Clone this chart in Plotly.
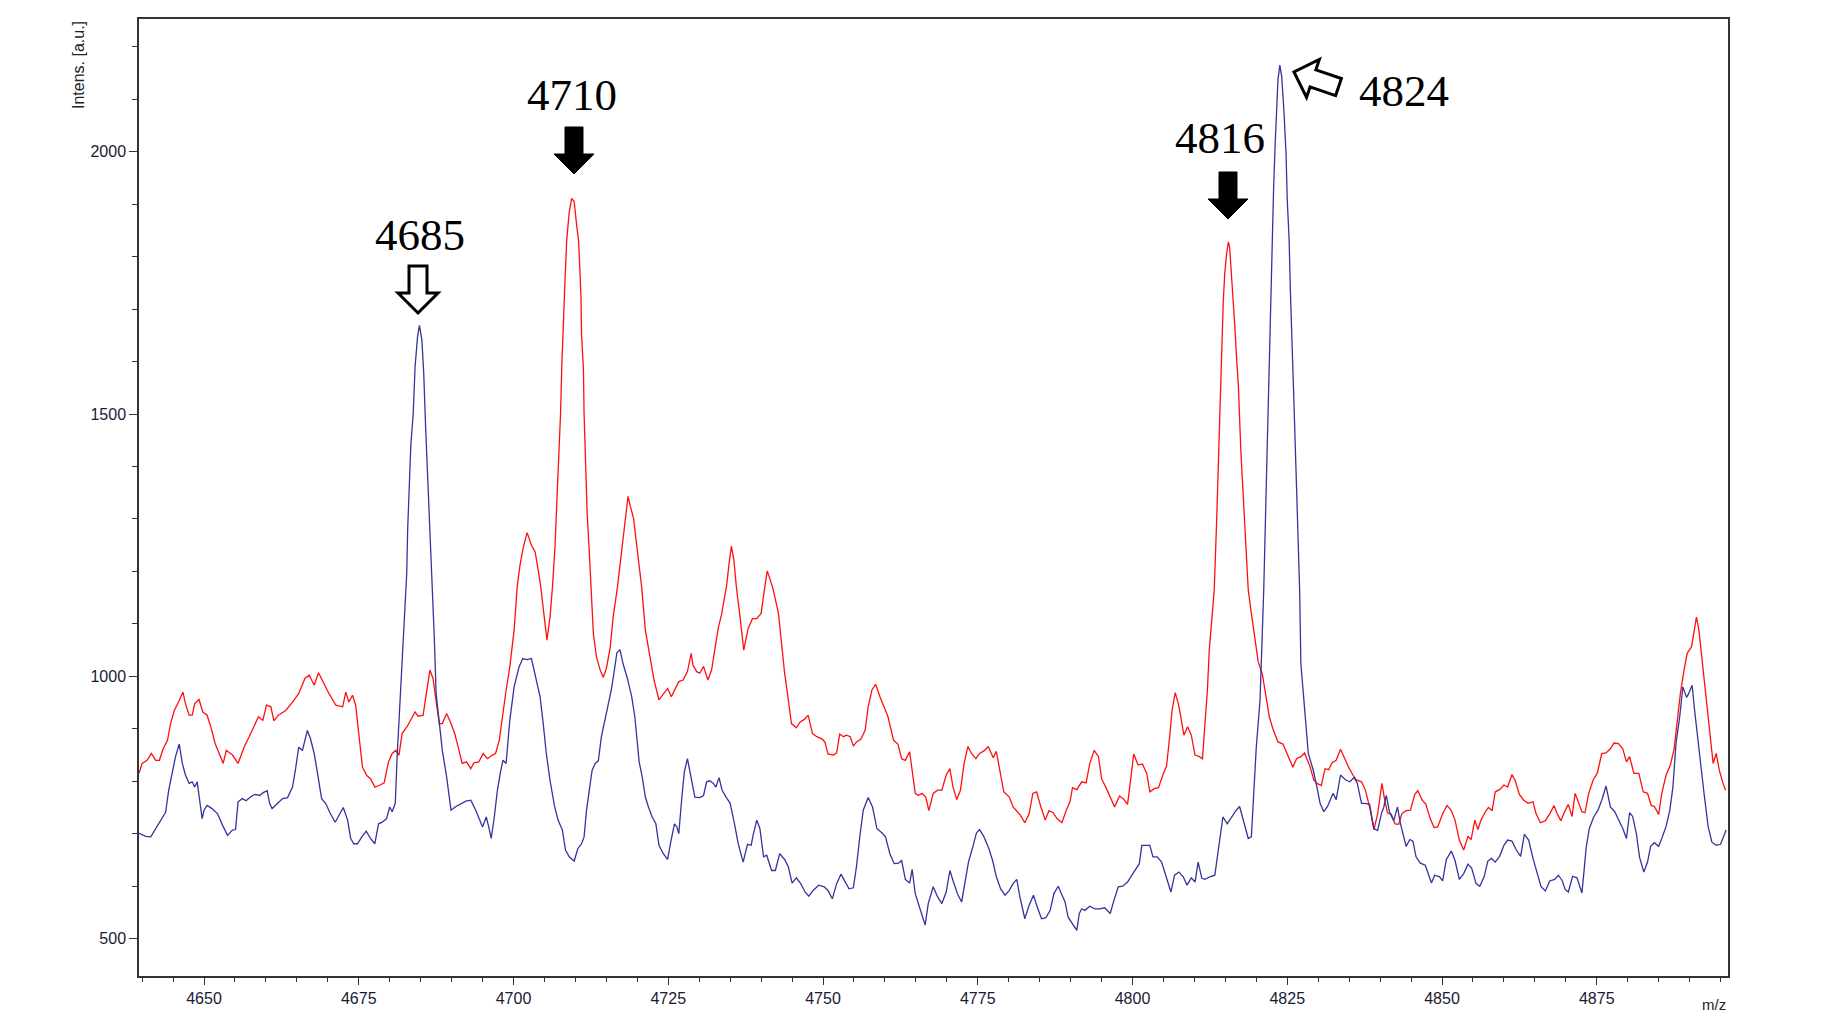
import math
import plotly.graph_objects as go

# widmo czerwone (m/z, intensywnosc)
red_mz = [4639.5, 4640.0, 4640.8, 4641.5, 4642.2, 4642.8, 4643.4, 4644.1, 4644.6, 4645.2, 4646.0, 4646.6,
          4647.0, 4647.6, 4648.1, 4648.5, 4649.2, 4649.8, 4650.5, 4651.1, 4651.8, 4652.4, 4653.1, 4653.6,
          4654.6, 4655.5, 4656.5, 4657.3, 4658.1, 4658.8, 4659.5, 4660.1, 4660.8, 4661.3, 4662.0, 4663.2,
          4664.3, 4665.3, 4666.3, 4667.0, 4667.8, 4668.5, 4669.4, 4670.2, 4671.3, 4672.4, 4672.9, 4673.4,
          4674.0, 4674.5, 4675.0, 4675.6, 4676.3, 4676.9, 4677.6, 4678.3, 4679.1, 4679.8, 4680.4, 4681.0,
          4681.5, 4682.0, 4682.8, 4683.4, 4684.1, 4684.6, 4685.4, 4685.8, 4686.5, 4687.0, 4687.5, 4688.0,
          4688.5, 4689.2, 4689.8, 4690.5, 4691.2, 4691.7, 4692.4, 4693.1, 4693.6, 4694.4, 4695.1, 4695.8,
          4696.6, 4697.1, 4697.7, 4698.3, 4698.8, 4699.4, 4700.1, 4700.6, 4701.05, 4701.6, 4702.2, 4702.9,
          4703.5, 4704.0, 4704.4, 4704.8, 4705.4, 4705.9, 4706.3, 4706.7, 4707.0, 4707.3, 4707.6, 4707.8,
          4708.0, 4708.3, 4708.6, 4709.0, 4709.4, 4709.8, 4710.2, 4710.5, 4710.7, 4710.9, 4711.0, 4711.3,
          4711.4, 4711.7, 4711.9, 4712.2, 4712.5, 4712.9, 4713.4, 4714.0, 4714.5, 4715.0, 4715.6, 4716.1,
          4716.8, 4717.3, 4717.7, 4718.2, 4718.5, 4718.9, 4719.4, 4719.8, 4720.2, 4720.7, 4721.3, 4722.0,
          4722.7, 4723.5, 4724.2, 4724.9, 4725.5, 4726.1, 4726.7, 4727.4, 4728.1, 4728.7, 4729.0, 4729.6,
          4730.1, 4730.7, 4731.4, 4732.0, 4732.5, 4733.1, 4733.6, 4734.4, 4734.9, 4735.2, 4735.6, 4736.0,
          4736.6, 4737.2, 4737.9, 4738.6, 4739.3, 4740.0, 4740.6, 4741.0, 4741.5, 4741.9, 4742.8, 4743.3,
          4743.8, 4744.4, 4744.9, 4745.7, 4746.3, 4747.0, 4747.6, 4748.3, 4749.0, 4749.8, 4750.3, 4750.8,
          4751.7, 4752.2, 4752.7, 4753.3, 4753.8, 4754.4, 4754.9, 4755.4, 4756.1, 4756.8, 4757.3, 4757.9,
          4758.5, 4759.2, 4759.9, 4760.5, 4761.4, 4762.1, 4762.7, 4763.3, 4764.0, 4764.9, 4765.4, 4766.0,
          4766.6, 4767.1, 4767.8, 4768.5, 4769.2, 4769.9, 4770.5, 4771.0, 4771.6, 4772.2, 4772.8, 4773.4,
          4774.0, 4774.7, 4775.3, 4776.0, 4776.7, 4777.5, 4778.0, 4778.6, 4779.2, 4780.1, 4780.7, 4781.4,
          4781.9, 4782.6, 4783.3, 4783.9, 4784.5, 4785.2, 4785.9, 4786.5, 4787.2, 4787.8, 4788.6, 4789.3,
          4789.9, 4790.3, 4791.0, 4791.8, 4792.5, 4793.1, 4793.8, 4794.5, 4795.0, 4795.8, 4796.5, 4797.1,
          4797.9, 4798.5, 4799.2, 4799.7, 4800.2, 4800.9, 4801.6, 4802.3, 4802.8, 4803.5, 4804.2, 4804.9,
          4805.5, 4806.0, 4806.4, 4806.9, 4807.4, 4807.8, 4808.3, 4808.9, 4809.5, 4810.1, 4810.8, 4811.3,
          4811.7, 4812.1, 4812.4, 4812.8, 4813.2, 4813.6, 4813.9, 4814.2, 4814.5, 4814.65, 4814.9, 4815.2,
          4815.5, 4815.7, 4816.0, 4816.3, 4816.5, 4816.8, 4817.1, 4817.5, 4818.0, 4818.4, 4818.7, 4819.2,
          4819.8, 4820.3, 4820.96, 4821.55, 4822.1, 4822.7, 4823.5, 4824.3, 4825.2, 4825.9, 4826.5, 4827.2,
          4827.8, 4828.7, 4829.3, 4829.8, 4830.5, 4831.1, 4831.7, 4832.2, 4832.9, 4833.6, 4834.3, 4834.9,
          4835.6, 4836.1, 4837.0, 4837.6, 4838.3, 4839.0, 4839.6, 4840.0, 4840.3, 4840.7, 4841.2, 4841.8,
          4842.4, 4843.0, 4843.5, 4844.2, 4844.9, 4845.6, 4846.1, 4846.8, 4847.4, 4848.0, 4848.7, 4849.3,
          4850.1, 4850.8, 4851.5, 4852.1, 4852.8, 4853.5, 4854.2, 4854.7, 4855.3, 4855.8, 4856.3, 4857.0,
          4857.5, 4858.1, 4858.6, 4859.3, 4860.0, 4860.6, 4861.3, 4861.8, 4862.5, 4863.2, 4863.9, 4864.7,
          4865.2, 4865.9, 4866.7, 4867.4, 4868.1, 4868.6, 4869.2, 4869.8, 4870.4, 4871.0, 4871.5, 4872.1,
          4872.6, 4873.1, 4873.7, 4874.4, 4875.1, 4875.8, 4876.5, 4877.2, 4877.8, 4878.5, 4879.2, 4879.8,
          4880.3, 4881.0, 4881.8, 4882.5, 4883.2, 4883.8, 4884.3, 4885.0, 4885.5, 4886.2, 4886.9, 4887.5,
          4888.0, 4888.5, 4889.1, 4889.6, 4890.3, 4890.7, 4891.1, 4891.5, 4891.9, 4892.3, 4892.8, 4893.4,
          4893.8, 4894.3, 4894.8, 4895.4, 4895.8]
red_int = [815, 834, 840, 853, 840, 840, 862, 878, 910, 935, 954, 970,
           948, 926, 926, 948, 956, 932, 926, 904, 872, 853, 834, 859,
           850, 834, 866, 885, 904, 923, 916, 945, 942, 915, 926, 935,
           951, 967, 996, 1002, 983, 1007, 986, 967, 945, 942, 970, 951,
           964, 945, 891, 827, 811, 805, 789, 792, 797, 837, 853, 859,
           850, 891, 904, 916, 932, 924, 926, 958, 1012, 996, 948, 910,
           910, 929, 913, 891, 859, 834, 837, 824, 835, 837, 853, 843,
           850, 853, 878, 932, 973, 1018, 1088, 1171, 1212, 1247, 1274, 1250,
           1237, 1202, 1171, 1130, 1069, 1113, 1171, 1247, 1330, 1412, 1501, 1590,
           1666, 1749, 1832, 1885, 1911, 1905, 1860, 1832, 1781, 1724, 1650, 1584,
           1501, 1393, 1310, 1247, 1171, 1082, 1037, 1012, 998, 1015, 1053, 1113,
           1171, 1222, 1272, 1323, 1343, 1323, 1301, 1260, 1222, 1171, 1088, 1044,
           993, 955, 967, 977, 961, 974, 990, 993, 1009, 1044, 1021, 1009,
           1006, 1019, 993, 1012, 1050, 1094, 1117, 1171, 1222, 1248, 1222, 1171,
           1113, 1050, 1091, 1110, 1110, 1120, 1171, 1201, 1183, 1168, 1120, 1060,
           1006, 955, 910, 902, 913, 918, 926, 891, 885, 881, 875, 852,
           850, 854, 890, 885, 888, 885, 867, 875, 880, 897, 942, 974,
           985, 961, 942, 923, 878, 871, 843, 840, 856, 777, 773, 777,
           770, 744, 777, 783, 783, 812, 824, 789, 765, 783, 834, 866,
           853, 843, 853, 858, 866, 845, 857, 821, 780, 770, 751, 742,
           735, 721, 738, 777, 780, 751, 726, 744, 740, 729, 721, 745,
           761, 788, 784, 799, 797, 834, 859, 847, 805, 786, 767, 751,
           772, 767, 756, 802, 852, 831, 833, 815, 780, 786, 788, 812,
           829, 885, 936, 969, 948, 923, 888, 904, 888, 850, 847, 843,
           904, 974, 1050, 1113, 1164, 1300, 1430, 1558, 1647, 1711, 1768, 1806,
           1828, 1816, 1762, 1717, 1673, 1609, 1555, 1430, 1310, 1220, 1164, 1120,
           1069, 1028, 1005, 961, 923, 899, 875, 871, 847, 827, 843, 847,
           854, 827, 802, 796, 792, 824, 822, 835, 840, 861, 843, 827,
           812, 803, 799, 784, 751, 708, 738, 770, 796, 767, 740, 737,
           719, 718, 738, 744, 745, 775, 782, 764, 756, 732, 712, 713,
           738, 754, 744, 726, 688, 669, 695, 689, 726, 708, 726, 742,
           750, 744, 780, 784, 793, 789, 813, 802, 775, 764, 758, 761,
           738, 721, 725, 738, 754, 738, 725, 742, 756, 733, 777, 758,
           742, 740, 777, 802, 816, 853, 854, 862, 873, 872, 862, 837,
           847, 815, 815, 780, 777, 754, 752, 737, 777, 812, 831, 862,
           913, 967, 1012, 1044, 1056, 1082, 1113, 1088, 1044, 999, 948, 882,
           834, 853, 821, 796, 783]

# widmo niebieskie
blue_mz = [4639.5, 4640.6, 4641.4, 4642.2, 4643.0, 4643.8, 4644.3, 4644.9, 4645.4, 4646.0, 4646.5, 4647.0,
           4647.6, 4648.1, 4648.5, 4648.9, 4649.3, 4649.7, 4650.0, 4650.5, 4651.3, 4652.2, 4653.0, 4653.8,
           4654.6, 4655.1, 4655.5, 4656.2, 4656.8, 4657.5, 4658.2, 4659.0, 4659.5, 4660.2, 4660.6, 4661.0,
           4661.9, 4662.7, 4663.5, 4664.3, 4664.8, 4665.3, 4665.9, 4666.3, 4666.7, 4667.2, 4667.8, 4668.3,
           4669.0, 4669.7, 4670.3, 4671.2, 4671.8, 4672.5, 4673.2, 4673.7, 4674.2, 4674.8, 4675.5, 4676.2,
           4676.9, 4677.6, 4678.2, 4678.8, 4679.5, 4680.0, 4680.4, 4680.9, 4681.2, 4681.8, 4682.3, 4682.75,
           4682.9, 4683.2, 4683.4, 4683.8, 4684.1, 4684.5, 4684.8, 4685.2, 4685.5, 4685.8, 4686.1, 4686.4,
           4686.6, 4686.8, 4687.2, 4687.5, 4688.0, 4688.5, 4689.2, 4689.9, 4690.7, 4691.5, 4692.3, 4693.1,
           4693.9, 4695.0, 4695.6, 4696.0, 4696.4, 4696.9, 4697.4, 4697.9, 4698.3, 4698.8, 4699.4, 4700.1,
           4700.9, 4701.5, 4702.2, 4702.9, 4703.5, 4704.3, 4704.8, 4705.3, 4705.9, 4706.6, 4707.2, 4707.9,
           4708.4, 4709.0, 4709.8, 4710.4, 4711.0, 4711.4, 4711.8, 4712.2, 4712.7, 4713.2, 4713.7, 4714.2,
           4714.8, 4715.3, 4715.8, 4716.3, 4716.7, 4717.2, 4717.7, 4718.4, 4719.1, 4719.6, 4719.9, 4720.3,
           4720.8, 4721.3, 4721.8, 4722.4, 4723.0, 4723.5, 4724.2, 4724.9, 4725.4, 4726.0, 4726.4, 4726.7,
           4727.2, 4727.6, 4728.1, 4728.7, 4729.3, 4730.1, 4730.7, 4731.2, 4731.7, 4732.3, 4732.7, 4733.2,
           4733.7, 4734.4, 4735.0, 4735.7, 4736.3, 4737.1, 4737.8, 4738.4, 4738.7, 4739.3, 4739.8, 4740.4,
           4740.9, 4741.7, 4742.3, 4743.0, 4743.8, 4744.4, 4745.0, 4745.7, 4746.4, 4747.1, 4747.7, 4748.4,
           4749.3, 4750.2, 4750.8, 4751.5, 4752.2, 4752.9, 4753.5, 4754.2, 4754.9, 4755.4, 4756.0, 4756.5,
           4757.3, 4758.0, 4758.7, 4759.5, 4760.1, 4760.8, 4761.5, 4762.2, 4762.7, 4763.3, 4764.0, 4764.4,
           4764.9, 4765.7, 4766.5, 4767.0, 4767.8, 4768.5, 4769.2, 4769.9, 4770.5, 4771.0, 4771.7, 4772.4,
           4772.9, 4773.5, 4774.2, 4774.8, 4775.3, 4776.0, 4776.7, 4777.4, 4778.0, 4778.7, 4779.4, 4780.1,
           4780.7, 4781.3, 4781.8, 4782.6, 4783.3, 4784.0, 4784.6, 4785.3, 4786.0, 4786.7, 4787.3, 4788.0,
           4788.5, 4789.1, 4789.6, 4790.3, 4791.0, 4791.4, 4791.8, 4792.3, 4793.1, 4793.9, 4794.7, 4795.5,
           4796.4, 4797.0, 4797.7, 4798.4, 4799.2, 4799.9, 4800.6, 4801.1, 4801.5, 4802.0, 4802.8, 4803.3,
           4804.0, 4804.7, 4805.4, 4806.2, 4806.8, 4807.5, 4808.2, 4808.8, 4809.5, 4810.1, 4810.6, 4811.2,
           4811.7, 4812.5, 4813.3, 4813.9, 4814.6, 4815.3, 4816.0, 4816.7, 4817.3, 4818.0, 4818.7, 4819.2,
           4819.6, 4820.0, 4820.6, 4820.96, 4821.2, 4821.6, 4822.0, 4822.1, 4822.35, 4822.6, 4822.8, 4823.05,
           4823.3, 4823.5, 4823.8, 4824.1, 4824.45, 4824.8, 4825.0, 4825.3, 4825.5, 4825.8, 4826.0, 4826.5,
           4827.0, 4827.2, 4827.6, 4828.0, 4828.4, 4828.8, 4829.2, 4829.8, 4830.3, 4830.9, 4831.5, 4832.4,
           4832.9, 4833.6, 4834.4, 4835.1, 4835.8, 4836.3, 4837.0, 4837.6, 4838.3, 4839.0, 4839.6, 4840.2,
           4840.6, 4841.0, 4841.5, 4842.2, 4842.8, 4843.3, 4843.8, 4844.2, 4844.8, 4845.3, 4845.8, 4846.5,
           4847.3, 4847.8, 4848.3, 4848.8, 4849.6, 4850.1, 4850.7, 4851.5, 4852.1, 4852.8, 4853.5, 4854.2,
           4854.8, 4855.5, 4856.1, 4856.8, 4857.4, 4858.0, 4858.6, 4859.3, 4860.0, 4860.6, 4861.3, 4862.0,
           4862.7, 4863.3, 4864.0, 4864.7, 4865.4, 4866.0, 4866.7, 4867.4, 4868.2, 4868.8, 4869.4, 4869.9,
           4870.4, 4871.1, 4871.8, 4872.6, 4872.9, 4873.3, 4873.8, 4874.5, 4875.2, 4875.8, 4876.5, 4877.2,
           4877.9, 4878.5, 4879.2, 4879.8, 4880.3, 4880.8, 4881.4, 4881.9, 4882.6, 4883.2, 4883.7, 4884.3,
           4885.0, 4885.5, 4886.2, 4886.8, 4887.3, 4887.8, 4888.4, 4888.9, 4889.5, 4889.8, 4890.4, 4890.8,
           4891.3, 4891.9, 4892.4, 4893.0, 4893.6, 4894.3, 4895.0, 4895.5, 4895.9]
blue_int = [701, 695, 694, 710, 726, 741, 783, 821, 847, 871, 834, 812,
            796, 799, 789, 799, 764, 729, 745, 754, 748, 738, 716, 697,
            707, 708, 761, 767, 763, 770, 775, 773, 778, 782, 758, 748,
            758, 767, 769, 789, 824, 865, 859, 881, 897, 881, 853, 818,
            767, 757, 741, 722, 735, 750, 726, 691, 681, 681, 694, 705,
            691, 681, 719, 722, 729, 751, 742, 758, 847, 974, 1101, 1196,
            1279, 1361, 1438, 1501, 1590, 1647, 1669, 1641, 1577, 1476, 1393, 1323,
            1247, 1183, 1075, 967, 910, 859, 808, 745, 752, 757, 762, 764,
            745, 713, 732, 713, 691, 732, 783, 818, 840, 834, 916, 980,
            1018, 1034, 1032, 1034, 1000, 961, 910, 853, 802, 754, 726, 707,
            669, 656, 648, 672, 681, 694, 745, 783, 821, 834, 839, 885,
            916, 945, 974, 1012, 1045, 1051, 1024, 996, 961, 923, 885, 837,
            808, 770, 751, 732, 719, 678, 662, 651, 684, 719, 713, 700,
            770, 818, 843, 808, 770, 769, 773, 799, 801, 796, 789, 807,
            783, 769, 758, 719, 681, 646, 680, 678, 697, 726, 710, 656,
            659, 630, 630, 662, 651, 637, 606, 616, 605, 589, 581, 592,
            602, 599, 592, 576, 605, 623, 611, 595, 597, 637, 700, 745,
            769, 751, 710, 702, 694, 662, 643, 644, 649, 613, 606, 632,
            586, 554, 526, 567, 599, 580, 567, 589, 630, 611, 586, 570,
            605, 646, 675, 702, 708, 694, 675, 649, 618, 595, 583, 592,
            605, 613, 580, 538, 564, 583, 561, 538, 540, 554, 586, 600,
            586, 570, 541, 529, 516, 548, 557, 554, 562, 557, 557, 559,
            548, 573, 599, 600, 608, 621, 634, 643, 678, 678, 678, 656,
            656, 646, 618, 589, 621, 627, 618, 602, 616, 608, 646, 615,
            613, 618, 621, 675, 732, 719, 732, 744, 752, 719, 691, 694,
            770, 866, 955, 1069, 1164, 1360, 1552, 1622, 1743, 1838, 1933, 2016,
            2073, 2137, 2165, 2143, 2080, 1997, 1908, 1832, 1736, 1641, 1552, 1360,
            1164, 1024, 974, 910, 853, 837, 821, 789, 758, 742, 752, 777,
            765, 812, 803, 799, 807, 797, 758, 758, 756, 710, 706, 738,
            751, 773, 742, 725, 751, 719, 694, 676, 689, 686, 656, 644,
            640, 624, 606, 621, 618, 610, 651, 667, 649, 613, 624, 642,
            634, 605, 600, 618, 648, 653, 646, 657, 678, 688, 686, 669,
            657, 699, 688, 653, 624, 599, 591, 610, 613, 621, 611, 594,
            589, 619, 616, 587, 624, 675, 710, 732, 745, 764, 791, 751,
            742, 727, 710, 691, 740, 733, 700, 656, 627, 646, 676, 683,
            676, 691, 714, 745, 789, 872, 923, 980, 960, 966, 983, 936,
            878, 821, 770, 713, 684, 678, 680, 694, 707]

x_ticks = [4650, 4675, 4700, 4725, 4750, 4775, 4800, 4825, 4850, 4875]
y_ticks = [500, 1000, 1500, 2000]

# opisy pikow: tekst, srodek napisu (px strony), grot strzalki (px strony), kat, pusta?
peaks = [
    ("4685", (420, 235), (418, 313), 0, True),
    ("4710", (572, 95), (574, 174), 0, False),
    ("4816", (1220, 138), (1228, 219), 0, False),
    ("4824", (1404, 91), (1294, 72), 108.7, True),
]

# strona ma domyslny margines 8 px, wiec wykres jest przesuniety
OFF = 8
W, H = 1832 - OFF, 1016 - OFF
L, R, T, B = 139 - OFF, 104, 19 - OFF, 40
PW, PH = W - L - R, H - T - B


def paper(px, py):
    return (px - OFF - L) / PW, (H - B - (py - OFF)) / PH


def arrow_path(tip, angle):
    pts = [(0, 0), (20, -20), (9, -20), (9, -47), (-9, -47), (-9, -20), (-20, -20)]
    a = math.radians(angle)
    out = []
    for x, y in pts:
        xr = x * math.cos(a) - y * math.sin(a)
        yr = x * math.sin(a) + y * math.cos(a)
        px, py = paper(tip[0] + xr, tip[1] + yr)
        out.append("{:.5f},{:.5f}".format(px, py))
    return "M " + " L ".join(out) + " Z"


fig = go.Figure()
fig.add_trace(go.Scatter(x=red_mz, y=red_int, mode="lines",
                         line=dict(color="#ff1010", width=1.3), showlegend=False))
fig.add_trace(go.Scatter(x=blue_mz, y=blue_int, mode="lines",
                         line=dict(color="#34349c", width=1.3), showlegend=False))

for txt, center, tip, ang, hollow in peaks:
    cx, cy = paper(*center)
    fig.add_annotation(x=cx, y=cy, xref="paper", yref="paper", text=txt, showarrow=False,
                       xanchor="center", yanchor="middle",
                       font=dict(family="Liberation Serif", size=45, color="black"))
    fig.add_shape(type="path", path=arrow_path(tip, ang), xref="paper", yref="paper",
                  fillcolor="white" if hollow else "black",
                  line=dict(color="black", width=3 if hollow else 1), layer="above")

# opisy osi
fig.add_annotation(x=paper(78, 0)[0], y=paper(0, 19)[1], xref="paper", yref="paper",
                   text="Intens. [a.u.]", showarrow=False, textangle=-90,
                   xanchor="center", yanchor="top",
                   font=dict(family="Liberation Sans", size=16, color="#222"))
fig.add_annotation(x=paper(1714, 0)[0], y=paper(0, 1015)[1], xref="paper", yref="paper",
                   text="m/z", showarrow=False, xanchor="center", yanchor="bottom",
                   font=dict(family="Liberation Sans", size=15, color="#222"))

axis_style = dict(showline=True, linecolor="#333", linewidth=1.5, mirror=True,
                  showgrid=False, zeroline=False, ticks="outside", tickcolor="#333",
                  tickfont=dict(family="Liberation Sans", size=16, color="#1a1a33"))

fig.update_xaxes(range=[4639.5, 4896.2], tickvals=x_ticks, ticklen=7,
                 minor=dict(dtick=5, tick0=4650, ticklen=4, ticks="outside", tickcolor="#333"),
                 **axis_style)
fig.update_yaxes(range=[428.9, 2252.9], tickvals=y_ticks, ticklen=8,
                 minor=dict(dtick=100, tick0=500, ticklen=5, ticks="outside", tickcolor="#333"),
                 **axis_style)

fig.update_layout(width=W, height=H, plot_bgcolor="white", paper_bgcolor="white",
                  margin=dict(l=L, r=R, t=T, b=B, autoexpand=False))

fig.write_html("out.html")
